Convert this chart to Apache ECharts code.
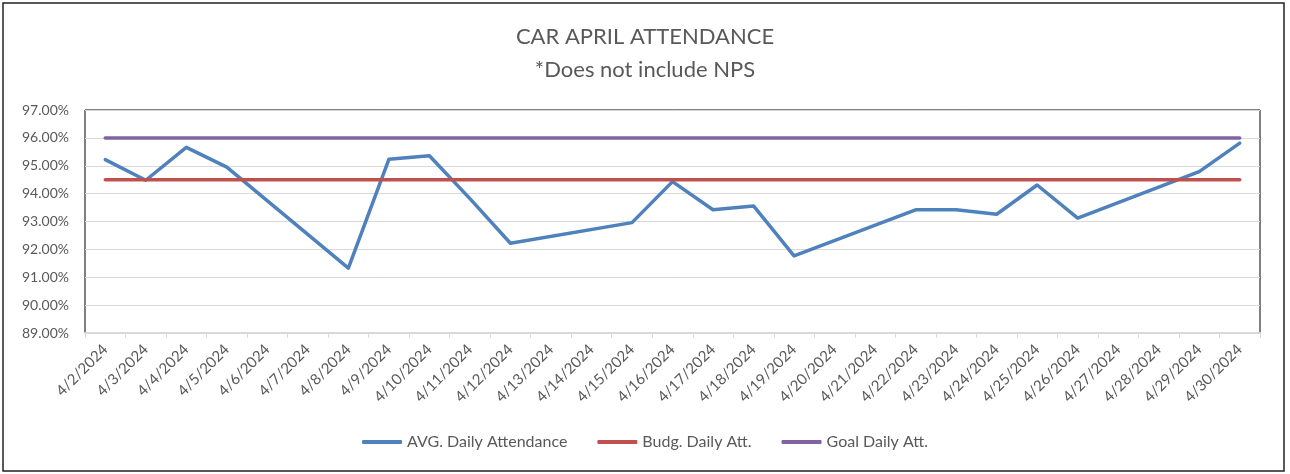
<!DOCTYPE html>
<html>
<head>
<meta charset="utf-8">
<script src="https://cdn.jsdelivr.net/npm/echarts@6/dist/echarts.min.js"></script>
<style>
  html, body { margin: 0; padding: 0; background: #fff; }
  #chart { width: 1290px; height: 474px; }
</style>
</head>
<body>
<div id="chart"></div>
<script>
var days = ['4/2/2024', '4/3/2024', '4/4/2024', '4/5/2024', '4/6/2024', '4/7/2024', '4/8/2024',
    '4/9/2024', '4/10/2024', '4/11/2024', '4/12/2024', '4/13/2024', '4/14/2024', '4/15/2024',
    '4/16/2024', '4/17/2024', '4/18/2024', '4/19/2024', '4/20/2024', '4/21/2024', '4/22/2024',
    '4/23/2024', '4/24/2024', '4/25/2024', '4/26/2024', '4/27/2024', '4/28/2024', '4/29/2024',
    '4/30/2024'];

// weekends have no data, Excel just joins the points across them
var avgAttendance = [95.22, 94.48, 95.66, 94.95, null, null, 91.33,
    95.23, 95.36, 93.82, 92.22, null, null, 92.96,
    94.43, 93.42, 93.56, 91.77, null, null, 93.42,
    93.42, 93.26, 94.31, 93.12, null, null, 94.79,
    95.81];

var budgAttendance = [94.5, 94.5, 94.5, 94.5, 94.5, 94.5, 94.5, 94.5, 94.5, 94.5,
    94.5, 94.5, 94.5, 94.5, 94.5, 94.5, 94.5, 94.5, 94.5, 94.5,
    94.5, 94.5, 94.5, 94.5, 94.5, 94.5, 94.5, 94.5, 94.5];

var goalAttendance = [96, 96, 96, 96, 96, 96, 96, 96, 96, 96,
    96, 96, 96, 96, 96, 96, 96, 96, 96, 96,
    96, 96, 96, 96, 96, 96, 96, 96, 96];

var textColor = '#595959';
var fontName = 'Lato';

var chart = echarts.init(document.getElementById('chart'));

var lineSeries = function (name, data, color) {
    return {
        name: name,
        type: 'line',
        data: data,
        showSymbol: false,
        connectNulls: true,
        animation: false,
        lineStyle: { color: color, width: 3.5, cap: 'round', join: 'round' },
        itemStyle: { color: color }
    };
};

chart.setOption({
    backgroundColor: '#fff',
    textStyle: { fontFamily: fontName },
    title: {
        text: 'CAR APRIL ATTENDANCE\n*Does not include NPS',
        left: 'center',
        top: 15,
        textStyle: {
            color: textColor,
            fontFamily: fontName,
            fontSize: 22,
            fontWeight: 'normal',
            lineHeight: 33
        }
    },
    graphic: [{
        type: 'rect',
        shape: { x: 3, y: 3, width: 1281, height: 468 },
        style: { fill: 'none', stroke: '#222', lineWidth: 1.5 },
        silent: true
    }],
    legend: {
        bottom: 19,
        left: 'center',
        icon: 'roundRect',
        itemWidth: 40,
        itemHeight: 4,
        itemGap: 30,
        textStyle: { color: textColor, fontFamily: fontName, fontSize: 16 },
        data: ['AVG. Daily Attendance', 'Budg. Daily Att.', 'Goal Daily Att.']
    },
    grid: {
        left: 85,
        right: 30,
        top: 110,
        bottom: 141,
        show: true,
        borderColor: '#000',
        borderWidth: 1
    },
    xAxis: {
        type: 'category',
        data: days,
        boundaryGap: true,
        axisLine: { lineStyle: { color: '#d9d9d9', width: 2 } },
        axisTick: { show: true, alignWithLabel: false, length: 5, lineStyle: { color: '#d9d9d9' } },
        axisLabel: {
            interval: 0,
            rotate: 45,
            margin: 14,
            color: textColor,
            fontFamily: fontName,
            fontSize: 15
        },
        splitLine: { show: false }
    },
    yAxis: {
        type: 'value',
        min: 89,
        max: 97,
        interval: 1,
        axisLine: { show: false },
        axisTick: { show: false },
        axisLabel: {
            margin: 16,
            color: textColor,
            fontFamily: fontName,
            fontSize: 14,
            formatter: function (v) { return v.toFixed(2) + '%'; }
        },
        splitLine: { lineStyle: { color: '#d9d9d9', width: 1 } }
    },
    series: [
        lineSeries('AVG. Daily Attendance', avgAttendance, '#4f81bd'),
        lineSeries('Budg. Daily Att.', budgAttendance, '#c0504d'),
        lineSeries('Goal Daily Att.', goalAttendance, '#8064a2')
    ]
});
</script>
</body>
</html>
